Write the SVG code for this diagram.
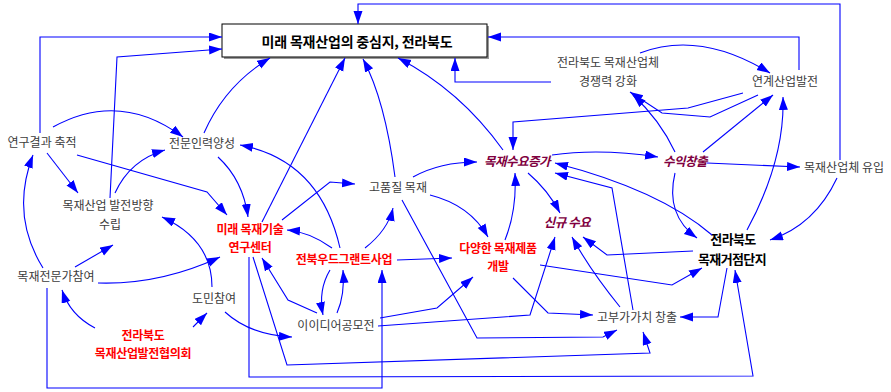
<svg xmlns="http://www.w3.org/2000/svg" width="891" height="392" viewBox="0 0 891 392">
<style>
text{font-family:"Noto Sans CJK KR","Noto Sans",sans-serif;text-anchor:middle}
.g{font-size:12px;fill:#3c3c3c}
.r{font-size:12px;fill:#ff0000;font-weight:bold;letter-spacing:-0.3px}
.m{font-size:12.5px;fill:#800040;font-weight:bold;font-style:italic;letter-spacing:-0.5px}
.k{font-size:13px;fill:#000;font-weight:bold;letter-spacing:-0.6px}
.t{font-size:14px;fill:#000;font-weight:bold;letter-spacing:-0.2px}
#conn path{fill:none;stroke:#0000ff;stroke-width:1.1;marker-end:url(#ah)}
</style>
<defs>
<marker id="ah" markerUnits="userSpaceOnUse" markerWidth="14" markerHeight="10" refX="13" refY="4.5" orient="auto">
<path d="M0,0 L13,4.5 L0,9 z" fill="#0000ff"/>
</marker>
</defs>
<rect width="891" height="392" fill="#fff"/>
<g id="main">
<rect x="224" y="26" width="265" height="33" fill="#999"/>
<rect x="222" y="24" width="265" height="33" fill="#fff" stroke="#000" stroke-width="1"/>
<text class="t" x="357" y="47">미래 목재산업의 중심지, 전라북도</text>
</g>
<g id="n-yeongu"><text class="g" x="42" y="147">연구결과 축적</text></g>
<g id="n-jeonmun"><text class="g" x="202" y="148">전문인력양성</text></g>
<g id="n-baljeon"><text class="g" x="108" y="210">목재산업 발전방향</text><text class="g" x="110" y="229">수립</text></g>
<g id="n-expert"><text class="g" x="56" y="281">목재전문가참여</text></g>
<g id="n-domin"><text class="g" x="214" y="303">도민참여</text></g>
<g id="n-council"><text class="r" x="143" y="340">전라북도</text><text class="r" x="143" y="357.5">목재산업발전협의회</text></g>
<g id="n-center"><text class="r" x="250" y="234">미래 목재기술</text><text class="r" x="250" y="251.5">연구센터</text></g>
<g id="n-grant"><text class="r" x="344" y="264">전북우드그랜트사업</text></g>
<g id="n-quality"><text class="g" x="398" y="192">고품질 목재</text></g>
<g id="n-idea"><text class="g" x="336" y="330">이이디어공모전</text></g>
<g id="n-product"><text class="r" x="498" y="253">다양한 목재제품</text><text class="r" x="498" y="270.5">개발</text></g>
<g id="n-demand"><text class="m" x="517" y="166">목재수요증가</text></g>
<g id="n-new"><text class="m" x="567" y="227">신규 수요</text></g>
<g id="n-profit"><text class="m" x="685" y="166">수익창출</text></g>
<g id="n-compet"><text class="g" x="608" y="67">전라북도 목재산업체</text><text class="g" x="608" y="86">경쟁력 강화</text></g>
<g id="n-link"><text class="g" x="785" y="86">연계산업발전</text></g>
<g id="n-inflow"><text class="g" x="844" y="172">목재산업체 유입</text></g>
<g id="n-hub"><text class="k" x="733" y="244">전라북도</text><text class="k" x="732" y="264">목재거점단지</text></g>
<g id="n-value"><text class="g" x="637" y="322">고부가가치 창출</text></g>
<g id="conn">
<path d="M40,133 L40,37 L222,37"/>
<path d="M110,198 L117,57 L222,49"/>
<path d="M204,133 Q225,85 270,58"/>
<path d="M262,222 L345,58"/>
<path d="M395,177 Q385,100 363,59"/>
<path d="M503,150 Q460,90 398,58"/>
<path d="M840,160 L840,4 L358,4 L358,24"/>
<path d="M799,70 L799,37 L488,37"/>
<path d="M551,82 L455,82 L455,58"/>
<path d="M743,93 L688,108 L513,122 L513,150"/>
<path d="M758,95 L710,117 L662,113 L630,92"/>
<path d="M640,53 Q700,30 770,73"/>
<path d="M703,152 L773,95"/>
<path d="M747,230 Q785,160 783,97"/>
<path d="M837,178 Q815,225 770,240"/>
<path d="M707,163 L800,167"/>
<path d="M675,173 Q665,215 697,238"/>
<path d="M552,155 Q600,148 658,157"/>
<path d="M712,235 Q660,190 555,163"/>
<path d="M633,310 L612,188 L555,173"/>
<path d="M675,152 Q660,120 633,95"/>
<path d="M413,177 Q440,162 477,162"/>
<path d="M430,195 Q470,205 488,237"/>
<path d="M505,240 Q517,210 515,173"/>
<path d="M528,173 Q548,190 560,213"/>
<path d="M378,326 L530,315 L555,237"/>
<path d="M620,307 Q590,270 572,237"/>
<path d="M693,251 L607,255 L583,237"/>
<path d="M540,265 L672,285 L702,268"/>
<path d="M513,278 L548,313 L593,315"/>
<path d="M727,268 L718,317 L680,317"/>
<path d="M402,200 L477,338 L603,337 L617,330"/>
<path d="M253,257 L287,365 L650,353 L643,332"/>
<path d="M249,257 L249,377 L753,376 L735,270"/>
<path d="M47,288 L47,388 L382,388 L382,270"/>
<path d="M332,248 Q310,232 287,230"/>
<path d="M340,248 Q320,160 240,145"/>
<path d="M365,248 Q388,230 393,208"/>
<path d="M397,260 L452,258"/>
<path d="M330,270 Q318,290 323,315"/>
<path d="M337,313 Q345,295 343,270"/>
<path d="M317,313 L288,300 L262,258"/>
<path d="M282,220 L330,182 L355,184"/>
<path d="M218,157 Q243,180 248,217"/>
<path d="M77,155 L207,192 L227,215"/>
<path d="M53,127 Q120,90 183,137"/>
<path d="M47,153 L78,193"/>
<path d="M115,193 Q130,160 165,150"/>
<path d="M43,268 Q10,215 33,155"/>
<path d="M75,267 L113,245"/>
<path d="M98,283 Q160,285 220,257"/>
<path d="M212,287 Q212,240 162,217"/>
<path d="M225,312 Q250,335 292,337"/>
<path d="M95,328 Q70,315 62,290"/>
<path d="M193,327 L207,313"/>
<path d="M380,318 L437,308 L473,277"/>
</g>
</svg>
